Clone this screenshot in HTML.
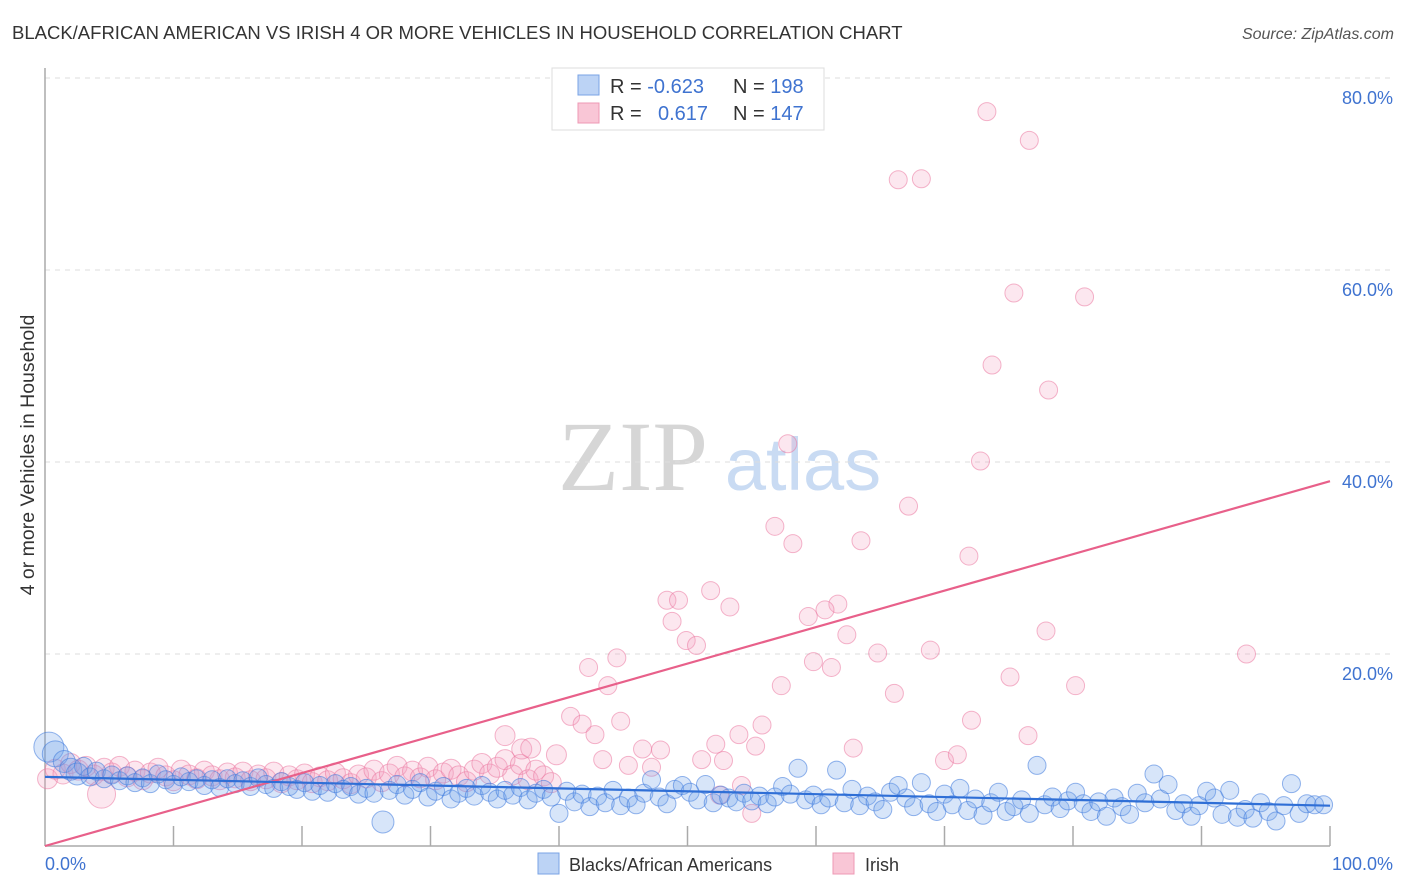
<!DOCTYPE html>
<html><head><meta charset="utf-8"><style>
body{margin:0;background:#fff;font-family:"Liberation Sans",sans-serif}
svg{display:block}
</style></head><body>
<svg id="chart" width="1406" height="892" viewBox="0 0 1406 892" xmlns="http://www.w3.org/2000/svg">
<text x="12" y="39" font-size="18.5" fill="#333">BLACK/AFRICAN AMERICAN VS IRISH 4 OR MORE VEHICLES IN HOUSEHOLD CORRELATION CHART</text>
<text x="1394" y="39" font-size="16" fill="#555" text-anchor="end" font-style="italic">Source: ZipAtlas.com</text>
<g>
<text x="633" y="490" font-size="100" fill="#d6d6d6" font-family="Liberation Serif,serif" text-anchor="middle">ZIP</text>
<text x="803" y="490" font-size="74" fill="#c9dbf3" text-anchor="middle">atlas</text>
</g>
<g id="grid"></g>
<line x1="45" y1="68" x2="45" y2="846" stroke="#aaa" stroke-width="1.5"/>
<line x1="45" y1="846" x2="1330" y2="846" stroke="#aaa" stroke-width="1.5"/>
<g id="xticks"></g>
<g id="ylabels"></g>
<text x="45" y="870" font-size="18" fill="#3f73d0">0.0%</text>
<text x="1393" y="870" font-size="18" fill="#3f73d0" text-anchor="end">100.0%</text>
<text transform="translate(34,455) rotate(-90)" font-size="19.5" fill="#333" text-anchor="middle">4 or more Vehicles in Household</text>
<g id="pinkpts"></g>
<g id="bluepts"></g>
<g id="trends"></g>
<g>
<rect x="552" y="68" width="272" height="62" fill="#fff" stroke="#ddd"/>
<rect x="578" y="75" width="21" height="20" fill="#bcd3f5" stroke="#7aa3e5"/>
<rect x="578" y="103" width="21" height="20" fill="#f9c6d6" stroke="#ee98b4"/>
<text x="610" y="93" font-size="20" fill="#333">R = <tspan fill="#3f73d0">-0.623</tspan></text>
<text x="733" y="93" font-size="20" fill="#333">N = <tspan fill="#3f73d0">198</tspan></text>
<text x="610" y="120" font-size="20" fill="#333">R = </text>
<text x="658" y="120" font-size="20" fill="#3f73d0">0.617</text>
<text x="733" y="120" font-size="20" fill="#333">N = <tspan fill="#3f73d0">147</tspan></text>
</g>
<g>
<rect x="538" y="853" width="21" height="21" fill="#bcd3f5" stroke="#7aa3e5"/>
<text x="569" y="871" font-size="18" fill="#333">Blacks/African Americans</text>
</g>
<g>
<rect x="833" y="853" width="21" height="21" fill="#f9c6d6" stroke="#ee98b4"/>
<text x="865" y="871" font-size="18" fill="#333">Irish</text>
</g>
</svg>
<script>
const yTicks=[20,40,60,80];
const yTickLabels=["20.0%","40.0%","60.0%","80.0%"];
const xTicks=[10,20,30,40,50,60,70,80,90,100];
const blueX=[0.3,0.8,1.5,2,2.5,3,3.5,4,4.6,5.2,5.8,6.4,7,7.6,8.2,8.8,9.4,10,10.6,11.2,11.8,12.4,13,13.6,14.2,14.8,15.4,16,16.6,17.2,17.8,18.4,19,19.6,20.2,20.8,21.4,22,22.6,23.2,23.8,24.4,25,25.6,26.3,26.8,27.4,28,28.6,29.2,29.8,30.4,31,31.6,32.2,32.8,33.4,34,34.6,35.2,35.8,36.4,37,37.6,38.2,38.8,39.4,40,40.6,41.2,41.8,42.4,43,43.6,44.2,44.8,45.4,46,46.6,47.2,47.8,48.4,49,49.6,50.2,50.8,51.4,52,52.6,53.2,53.8,54.4,55,55.6,56.2,56.8,57.4,58,58.6,59.2,59.8,60.4,61,61.6,62.2,62.8,63.4,64,64.6,65.2,65.8,66.4,67,67.6,68.2,68.8,69.4,70,70.6,71.2,71.8,72.4,73,73.6,74.2,74.8,75.4,76,76.6,77.2,77.8,78.4,79,79.6,80.2,80.8,81.4,82,82.6,83.2,83.8,84.4,85,85.6,86.3,86.8,87.4,88,88.6,89.2,89.8,90.4,91,91.6,92.2,92.8,93.4,94,94.6,95.2,95.8,96.4,97,97.6,98.2,98.8,99.5];
const blueY=[10.3,9.6,8.8,8,7.5,8.3,7.2,7.8,7,7.4,6.8,7.3,6.6,7.1,6.5,7.5,6.9,6.4,7.2,6.7,7,6.3,6.9,6.1,7,6.5,6.8,6.2,7.1,6.4,6,6.7,6.2,5.9,6.6,5.7,6.3,5.6,6.5,5.9,6.2,5.4,6,5.5,2.5,5.8,6.4,5.3,5.9,6.6,5.1,5.7,6.2,4.9,5.5,6,5.2,6.3,5.6,4.9,5.8,5.3,6.1,4.8,5.5,5.9,5.1,3.4,5.7,4.6,5.4,4.1,5.2,4.5,5.8,4.2,5,4.3,5.5,6.9,5.1,4.4,5.9,6.3,5.6,4.8,6.4,4.5,5.3,5,4.6,5.5,4.7,5.2,4.4,5.1,6.2,5.4,8.1,4.8,5.3,4.3,5,7.9,4.5,5.9,4.2,5.2,4.6,3.8,5.6,6.3,5,4.1,6.6,4.4,3.6,5.4,4.3,6,3.7,4.9,3.2,4.5,5.6,3.6,4.1,4.8,3.4,8.4,4.3,5.1,3.9,4.7,5.6,4.4,3.6,4.6,3.1,5,4.1,3.3,5.5,4.5,7.5,4.9,6.4,3.7,4.4,3.1,4.2,5.7,5,3.3,5.8,3,3.8,2.9,4.5,3.6,2.6,4.2,6.5,3.4,4.4,4.3,4.3];
const pinkX=[0.2,0.8,1.4,2,2.6,3.2,3.8,4.4,4.6,5.2,5.8,6.4,7,7.6,8.2,8.8,9.4,10,10.6,11.2,11.8,12.4,13,13.6,14.2,14.8,15.4,16,16.6,17.2,17.8,18.4,19,19.6,20.2,20.8,21.4,22,22.6,23.2,23.8,24.4,25,25.6,26.2,26.8,27.4,28,28.6,29.2,29.8,30.4,31,31.6,32.2,32.8,33.4,34,34.6,35.2,35.8,36.4,37,37.6,38.2,38.8,39.4,73.3,76.6,66.4,68.2,75.4,80.9,73.7,78.1,57.8,72.8,67.2,56.8,58.2,63.5,71.9,48.4,49.3,51.8,53.3,48.8,49.9,50.7,61.7,60.7,59.4,62.4,77.9,64.8,68.9,93.5,44.5,42.3,43.8,59.8,61.2,57.3,66.1,75.1,80.2,40.9,41.8,44.8,42.8,55.8,54,72.1,76.5,35.8,37.1,37.8,39.8,46.5,47.9,52.2,55.3,62.9,70,71,43.4,45.4,51.1,52.8,47.2,55,52.5,54.2];
const pinkY=[7,8,7.5,8.6,7.9,8.3,7.4,5.4,8.1,7.6,8.3,7.2,7.8,6.9,7.6,8.1,7.3,6.8,7.9,7.4,7,7.8,7.3,6.9,7.6,7.1,7.7,6.8,7.4,7,7.7,6.6,7.3,6.9,7.5,6.6,7.2,6.8,7.6,7,6.5,7.4,7.1,7.9,6.7,7.5,8.3,7.2,7.8,7.1,8.2,6.9,7.6,8,7.3,6.7,7.9,8.6,7.5,8.2,9,7.4,8.5,6.9,7.9,7.3,6.6,76.5,73.5,69.4,69.5,57.6,57.2,50.1,47.5,41.9,40.1,35.4,33.3,31.5,31.8,30.2,25.6,25.6,26.6,24.9,23.4,21.4,20.9,25.2,24.6,23.9,22,22.4,20.1,20.4,20,19.6,18.6,16.7,19.2,18.6,16.7,15.9,17.6,16.7,13.5,12.7,13,11.6,12.6,11.6,13.1,11.5,11.5,10.1,10.2,9.5,10.1,10,10.6,10.4,10.2,8.9,9.5,9,8.4,9,8.9,8.2,3.4,5.3,6.3];
const blueTrend=[7.2,4.2];
const pinkTrend=[0,38.0];
const NS="http://www.w3.org/2000/svg";
const X=v=>45+v*12.85;
const Y=v=>846-v*9.6;
function mk(tag,attrs,parent){const e=document.createElementNS(NS,tag);for(const k in attrs)e.setAttribute(k,attrs[k]);parent.appendChild(e);return e;}
const grid=document.getElementById('grid');
yTicks.forEach(t=>{const l=mk('line',{x1:45,x2:1393,y1:Y(t),y2:Y(t),stroke:'#ddd','stroke-dasharray':'5,5'},grid);

});
const yl=document.getElementById('ylabels');
yTicks.forEach((t,i)=>{const e=mk('text',{x:1393,y:Y(t)+26,'font-size':18,fill:'#3f73d0','text-anchor':'end'},yl);e.textContent=yTickLabels[i];

});
const xt=document.getElementById('xticks');
xTicks.forEach(t=>{const l=mk('line',{x1:X(t),x2:X(t),y1:826,y2:846,stroke:'#aaa','stroke-width':1.5},xt);

});
const pp=document.getElementById('pinkpts');
pinkX.forEach((x,i)=>{const r=(x===4.4&&pinkY[i]<6)?14:(x<40?10:9);
const c=mk('circle',{cx:X(x),cy:Y(pinkY[i]),r:r,fill:'rgba(245,160,190,0.25)',stroke:'rgba(235,120,160,0.55)','stroke-width':1},pp);

});
const bp=document.getElementById('bluepts');
blueX.forEach((x,i)=>{const r=x<0.5?15:(x<1?13:(x<3?11:(blueY[i]<3&&x<30?11:9)));
const c=mk('circle',{cx:X(x),cy:Y(blueY[i]),r:r,fill:'rgba(110,160,235,0.28)',stroke:'rgba(60,120,220,0.55)','stroke-width':1},bp);

});
const tr=document.getElementById('trends');
const pl=mk('line',{x1:X(0),y1:Y(pinkTrend[0]),x2:X(100),y2:Y(pinkTrend[1]),stroke:'#e8608a','stroke-width':2.2},tr);


const bl=mk('line',{x1:X(0),y1:Y(blueTrend[0]),x2:X(100),y2:Y(blueTrend[1]),stroke:'#2f6fd6','stroke-width':2.2},tr);


</script>
</body></html>
